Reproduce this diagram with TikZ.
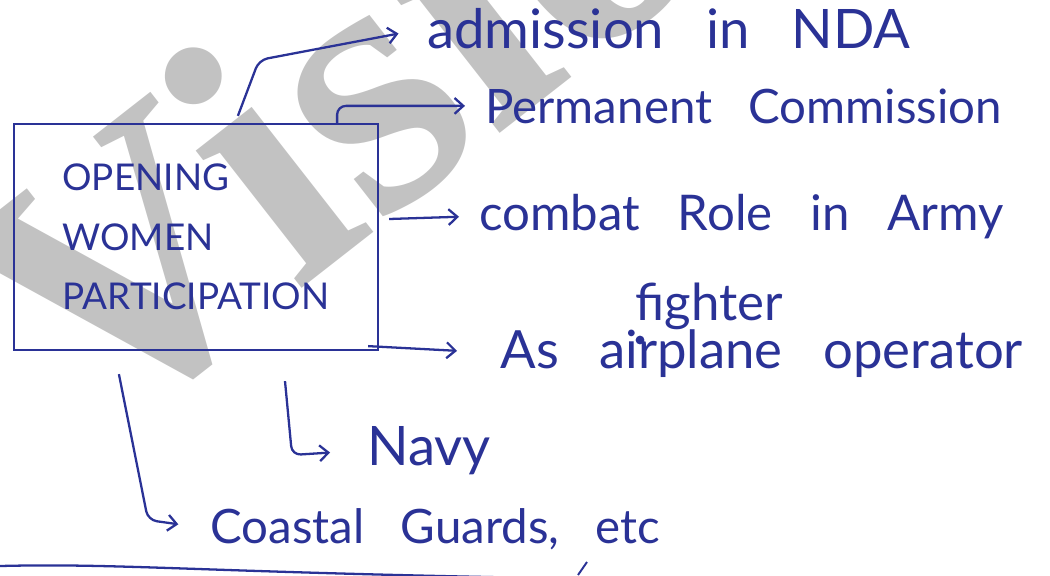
\documentclass[tikz,border=0pt]{standalone}
\usepackage{fontspec}
\setmainfont{Lato}
\newfontfamily\handfont{Lato}[WordSpace=3]
\newfontfamily\wmfont{Liberation Serif}
\usetikzlibrary{positioning,calc,arrows.meta}
\definecolor{ink}{RGB}{42,50,150}

\begin{document}
\begin{tikzpicture}[
  x=0.02cm, y=-0.02cm,
  box/.style={rectangle, draw=ink, line width=1.3pt, minimum width=7.28cm, minimum height=4.52cm, align=left, text=ink, font=\handfont\fontsize{21}{34}\selectfont},
  item/.style={anchor=base west, inner sep=0pt, text=ink, font=\handfont\fontsize{#1}{#1}\selectfont},
  item/.default=28,
  feed/.style={draw=ink, line width=1.3pt, rounded corners=5pt, -{Straight Barb[length=5pt,width=9pt]}, shorten >=#1},
  feed/.default=0.4cm,
  watermark/.style={text=black!24, font=\wmfont\bfseries\fontsize{215}{215}\selectfont, rotate=38, anchor=base west, inner sep=0pt}
]
  \useasboundingbox (0,0) rectangle (1050,575);

  % watermark behind everything
  \begin{scope}
    \clip (0,0) rectangle (1050,575);
    \node[watermark] (wm) at (91,453) {Vision};
  \end{scope}

  \node[box] (box) at (196,237) {OPENING\\WOMEN\\PARTICIPATION};

  % branches
  \node[item=31] (nda) at (427,48) {admission in NDA};
  \node[item=27] (perm) at (485,123) {Permanent Commission};
  \node[item=28] (combat) at (479,230) {combat Role in Army};
  \node[item=29] (fighter) at (635,320) {fighter};
  \node[item=30] (air) at (500,368) {As airplane operator};
  \node[item=31] (navy) at (367,465) {Navy};
  \node[item=27] (coast) at (210,543) {Coastal Guards, etc};

  \coordinate (ndaBend) at (259,60);
  \coordinate (navyBend) at (292,455);
  \coordinate (coastBend) at (148,520);

  \draw[feed=0.58cm] ($(box.north west)+(225,-7)$) -- (ndaBend) -- (nda.west);
  \draw[feed] ($(box.north east)+(-42,0)$) |- (perm.west);
  \draw[feed] ($(box.east)+(10,-18)$) -- (combat.west);
  \draw[feed=0.86cm] ($(box.south east)+(-11,-5)$) -- (air.west);
  \draw[feed=0.74cm] ($(box.south)+(89,30)$) -- (navyBend) -- (navy.west);
  \draw[feed=0.64cm] ($(box.south west)+(106,23)$) -- (coastBend) -- (coast.west);

  % insertion dot and stray pen strokes
  \fill[ink] (640,340) circle (2.5pt);
  \draw[ink, line width=1.3pt] (0,566) .. controls (120,563) and (200,572) .. (540,578);
  \draw[ink, line width=1.1pt] (578,575) -- (587,562);
\end{tikzpicture}
\end{document}
